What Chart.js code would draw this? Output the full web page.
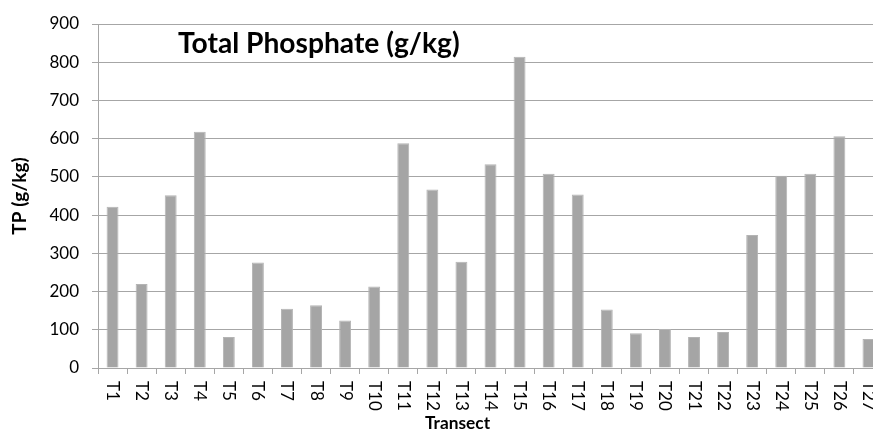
<!DOCTYPE html>
<html>
<head>
<meta charset="utf-8">
<script src="https://cdn.jsdelivr.net/npm/chart.js@4/dist/chart.umd.min.js"></script>
<style>
  html, body { margin: 0; padding: 0; background: #fff; overflow: hidden; }
  #wrap { width: 890px; height: 432px; }
</style>
</head>
<body>
<div id="wrap"><canvas id="tpChart"></canvas></div>
<script>
const transects = ['T1', 'T2', 'T3', 'T4', 'T5', 'T6', 'T7', 'T8', 'T9', 'T10',
  'T11', 'T12', 'T13', 'T14', 'T15', 'T16', 'T17', 'T18', 'T19', 'T20',
  'T21', 'T22', 'T23', 'T24', 'T25', 'T26', 'T27'];
const tpValues = [422, 220, 452, 618, 81, 276, 155, 164, 124, 213,
  588, 467, 278, 533, 814, 508, 454, 153, 91, 102,
  81, 94, 348, 503, 508, 606, 76];
const yTicks = [0, 100, 200, 300, 400, 500, 600, 700, 800, 900];

const chartTitle = 'Total Phosphate (g/kg)';
const xTitle = 'Transect';
const yTitle = 'TP (g/kg)';

const gridColor = '#a6a6a6';
const fontFamily = 'Lato, "Open Sans", sans-serif';

Chart.defaults.font.family = fontFamily;
Chart.defaults.font.size = 17;
Chart.defaults.color = '#000';

// fit a bold string to a target width (the original uses Calibri, which is wider than Lato)
function fitFont(ctx, text, width, weight) {
  ctx.font = weight + ' 20px ' + fontFamily;
  const size = 20 * width / ctx.measureText(text).width;
  return weight + ' ' + size.toFixed(1) + 'px ' + fontFamily;
}

// x labels read top-to-bottom like the Excel original, so draw them by hand
const textPlugin = {
  id: 'textPlugin',
  afterDraw(chart) {
    const ctx = chart.ctx;
    const xScale = chart.scales.x;
    const area = chart.chartArea;
    ctx.save();
    ctx.fillStyle = '#000';
    ctx.font = '17px ' + fontFamily;
    ctx.textAlign = 'left';
    ctx.textBaseline = 'middle';
    transects.forEach((label, i) => {
      const x = xScale.getPixelForTick(i);
      ctx.save();
      ctx.translate(x, area.bottom + 13);
      ctx.rotate(Math.PI / 2);
      ctx.fillText(label, 0, 0);
      ctx.restore();
    });

    ctx.textBaseline = 'alphabetic';
    ctx.font = fitFont(ctx, xTitle, 65, 'bold');
    ctx.fillText(xTitle, 425, 429);

    ctx.font = fitFont(ctx, chartTitle, 282, 'bold');
    ctx.fillText(chartTitle, area.left + 80, area.top + 29);
    ctx.restore();
  }
};

const ctx = document.getElementById('tpChart').getContext('2d');
new Chart(ctx, {
  type: 'bar',
  data: {
    labels: transects,
    datasets: [{
      label: 'TP',
      data: tpValues,
      backgroundColor: '#a5a5a5',
      borderColor: '#b4b4b4',
      borderWidth: { left: 1, right: 1, top: 1, bottom: 0 },
      barPercentage: 0.41,
      categoryPercentage: 1.0
    }]
  },
  options: {
    responsive: true,
    maintainAspectRatio: false,
    animation: false,
    layout: {
      padding: { top: 24, right: 7, left: 0, bottom: 0 }
    },
    plugins: {
      legend: { display: false },
      tooltip: { enabled: false }
    },
    scales: {
      x: {
        afterFit(scale) { scale.height = 64; },
        grid: {
          offset: true,
          drawOnChartArea: false,
          drawTicks: true,
          tickLength: 6,
          color: gridColor
        },
        border: { color: gridColor, width: 1 },
        ticks: { display: false }
      },
      y: {
        min: 0,
        max: 900,
        afterFit(scale) { scale.width = 98; },
        afterBuildTicks(scale) { scale.ticks = yTicks.map(v => ({ value: v })); },
        grid: {
          color: gridColor,
          lineWidth: 1,
          tickLength: 6
        },
        border: { color: gridColor, width: 1 },
        ticks: {
          padding: 13,
          color: '#000',
          font: { family: fontFamily, size: 17 }
        },
        title: {
          display: true,
          text: yTitle,
          color: '#000',
          padding: { top: 8, bottom: 0 },
          font: { family: fontFamily, size: 19, weight: 'bold' }
        }
      }
    }
  },
  plugins: [textPlugin]
});
</script>
</body>
</html>
